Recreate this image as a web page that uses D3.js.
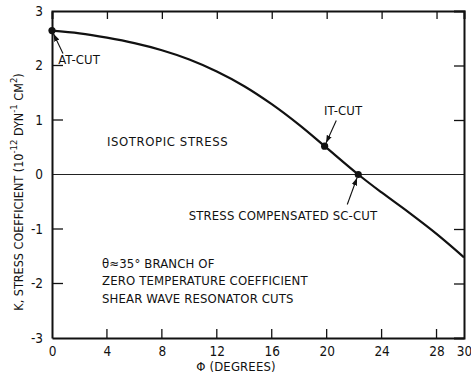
<!DOCTYPE html>
<html><head><meta charset="utf-8">
<script src="https://cdn.jsdelivr.net/npm/d3@7/dist/d3.min.js"></script>
<style>
body{margin:0;background:#fff;}
svg{display:block;}
text{font-family:"DejaVu Sans Condensed","Liberation Sans Narrow","DejaVu Sans",sans-serif;fill:#111;}
</style></head>
<body>
<svg id="chart" width="471" height="373"></svg>
<script>
// ---- data ----
const phi = [0, 2, 4, 6, 8, 10, 12, 14, 16, 18, 19.85, 22.3, 24, 26, 28, 30];
const kValues = [2.64, 2.59, 2.51, 2.41, 2.28, 2.11, 1.89, 1.62, 1.29, 0.91, 0.52, 0.0, -0.33, -0.70, -1.09, -1.52];
const cutNames = ["AT-CUT", "IT-CUT", "STRESS COMPENSATED SC-CUT"];
const cutPhi = [0, 19.85, 22.3];
const cutK = [2.64, 0.52, 0.0];
const xTicks = [0, 4, 8, 12, 16, 20, 24, 28, 30];
const yTicks = [-3, -2, -1, 0, 1, 2, 3];
const branchLines = ["\u03B8\u224835\u00B0 BRANCH OF", "ZERO TEMPERATURE COEFFICIENT", "SHEAR WAVE RESONATOR CUTS"];

(function () {
const W = 471, H = 373;
const m = {left: 52, right: 7, top: 11, bottom: 35};
const svg = d3.select("#chart");
const x = d3.scaleLinear().domain([0, 30]).range([m.left, W - m.right]);
const y = d3.scaleLinear().domain([-3, 3]).range([H - m.bottom, m.top]);

const fs = 13;
const ls = "0.15px";

// zero line
svg.append("line").attr("x1", x(0)).attr("x2", x(30)).attr("y1", y(0)).attr("y2", y(0))
  .attr("stroke", "#222").attr("stroke-width", 1);

// axes with inward ticks
const inner = [4, 8, 12, 16, 20, 24, 28];
const gBottom = svg.append("g").attr("transform", `translate(0,${y(-3)})`)
  .call(d3.axisBottom(x).tickValues(xTicks).tickSize(0).tickPadding(8).tickFormat(d3.format("d")));
const gTop = svg.append("g").attr("transform", `translate(0,${y(3)})`)
  .call(d3.axisTop(x).tickValues(inner).tickSize(-8).tickFormat(""));
const gLeft = svg.append("g").attr("transform", `translate(${x(0)},0)`)
  .call(d3.axisLeft(y).tickValues(yTicks).tickSize(0).tickPadding(9).tickFormat(d => d < 0 ? "-" + Math.abs(d) : d));
const gRight = svg.append("g").attr("transform", `translate(${x(30)},0)`)
  .call(d3.axisRight(y).tickValues([-2, -1, 1, 2]).tickSize(-10).tickFormat(""));
// inner ticks for bottom & left
svg.append("g").selectAll("line").data(inner).join("line")
  .attr("x1", d => x(d)).attr("x2", d => x(d)).attr("y1", y(-3)).attr("y2", y(-3) - 9)
  .attr("stroke", "#111").attr("stroke-width", 1.3);
svg.append("g").selectAll("line").data([-2, -1, 1, 2]).join("line")
  .attr("x1", x(0)).attr("x2", x(0) + 11).attr("y1", d => y(d)).attr("y2", d => y(d))
  .attr("stroke", "#111").attr("stroke-width", 1.3);

[gBottom, gTop, gLeft, gRight].forEach(g => {
  g.select(".domain").attr("stroke", "#111").attr("stroke-width", 2);
  g.selectAll(".tick line").attr("stroke", "#111").attr("stroke-width", 1.3);
  g.selectAll("text").attr("font-size", 13.5).attr("fill", "#111")
   .style("font-family", '"DejaVu Sans Condensed","Liberation Sans Narrow",sans-serif');
});

// axis titles
svg.append("text").attr("x", 236).attr("y", 371).attr("text-anchor", "middle")
  .attr("font-size", fs).style("letter-spacing", ls).text("\u03A6 (DEGREES)");

const yt = svg.append("text").attr("transform", "translate(23,192) rotate(-90)")
  .attr("text-anchor", "middle").attr("font-size", 12.5);
yt.append("tspan").text("K, STRESS COEFFICIENT (10");
yt.append("tspan").attr("dy", -6).attr("font-size", 9.5).text("-12");
yt.append("tspan").attr("dy", 6).text(" DYN");
yt.append("tspan").attr("dy", -6).attr("font-size", 9.5).text("-1");
yt.append("tspan").attr("dy", 6).text(" CM");
yt.append("tspan").attr("dy", -6).attr("font-size", 9.5).text("2");
yt.append("tspan").attr("dy", 6).text(")");

// curve
const line = d3.line().x((d, i) => x(phi[i])).y(d => y(d)).curve(d3.curveCatmullRom.alpha(0.5));
svg.append("path").datum(kValues).attr("d", line)
  .attr("fill", "none").attr("stroke", "#111").attr("stroke-width", 2.2);

// cut dots
svg.append("g").selectAll("circle").data(cutPhi).join("circle")
  .attr("cx", d => x(d)).attr("cy", (d, i) => y(cutK[i])).attr("r", 3.6).attr("fill", "#111");

// annotations (label position, arrow start in data coords)
const labelPhi = [0.45, 21.2, 9.95];
const labelK = [2.02, 1.10, -0.83];
const labelAnchor = ["start", "middle", "start"];
const arrowFromPhi = [0.8, 20.7, 21.5];
const arrowFromK = [2.22, 0.99, -0.55];

svg.append("defs").append("marker").attr("id", "ah")
  .attr("viewBox", "0 0 10 10").attr("refX", 10).attr("refY", 5)
  .attr("markerWidth", 7).attr("markerHeight", 7).attr("orient", "auto")
  .append("path").attr("d", "M0,1.5 L10,5 L0,8.5 Z").attr("fill", "#111");

cutNames.forEach((name, i) => {
  svg.append("text").attr("x", x(labelPhi[i])).attr("y", y(labelK[i]))
    .attr("text-anchor", labelAnchor[i]).attr("font-size", fs).style("letter-spacing", ls).text(name);
  const x1 = x(arrowFromPhi[i]), y1 = y(arrowFromK[i]);
  const x2 = x(cutPhi[i]), y2 = y(cutK[i]);
  const dx = x2 - x1, dy = y2 - y1, L = Math.hypot(dx, dy);
  svg.append("line").attr("x1", x1).attr("y1", y1)
    .attr("x2", x2 - dx / L * 3.5).attr("y2", y2 - dy / L * 3.5)
    .attr("stroke", "#111").attr("stroke-width", 1.1).attr("marker-end", "url(#ah)");
});

svg.append("text").attr("x", x(4.0)).attr("y", y(0.53)).attr("font-size", fs)
  .style("letter-spacing", "0.6px").text("ISOTROPIC STRESS");

const branchK = [-1.71, -2.02, -2.35];
branchLines.forEach((t, i) => {
  svg.append("text").attr("x", x(3.64)).attr("y", y(branchK[i])).attr("font-size", fs)
    .style("letter-spacing", ls).text(t);
});
})();
</script>
</body></html>
